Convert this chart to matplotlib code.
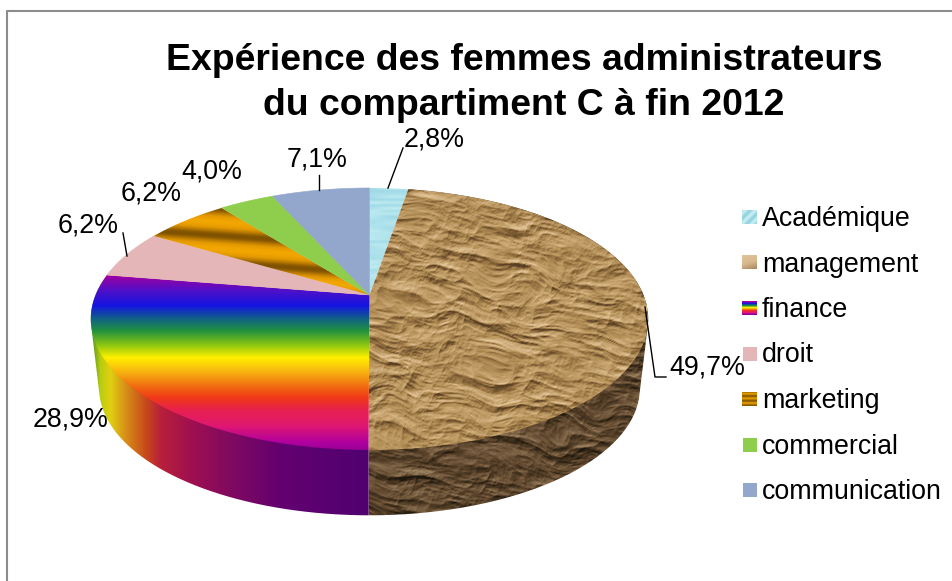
import matplotlib

matplotlib.use("Agg")
from matplotlib.patches import PathPatch
from matplotlib.path import Path
import matplotlib.pyplot as plt
import numpy as np

title = "Expérience des femmes administrateurs\ndu compartiment C à fin 2012"
categories = ["Académique", "management", "finance", "droit", "marketing", "commercial", "communication"]
# the printed percentages add up to more than 100, the pie normalises them
values = [2.8, 49.7, 28.9, 6.2, 6.2, 4.0, 7.1]
value_labels = ["2,8%", "49,7%", "28,9%", "6,2%", "6,2%", "4,0%", "7,1%"]

droit_color = "#e4b6b7"
commercial_color = "#8fcd4c"
communication_color = "#93a7cd"

finance_top_y = [275, 290, 305, 318, 330, 345, 357, 372, 385, 397, 410, 425, 442, 452]
finance_top_colors = ["#a000a0", "#5010c8", "#1414e0", "#106088", "#209040", "#90c810", "#fff000",
                      "#f8b010", "#f07010", "#f03a18", "#e82050", "#e01870", "#b000a0", "#900090"]
finance_side_x = [92, 100, 110, 125, 145, 160, 190, 230, 280, 370]
finance_side_colors = ["#5a9a20", "#b8cc10", "#e0d010", "#d89018", "#c84a1a",
                       "#b8203a", "#a01050", "#800a60", "#640070", "#500070"]

W, H = 953, 581

# pie geometry, in pixels
CX, CY = 369.5, 295
TOP_A, TOP_B, PERSP = 274, 126.6, 0.183
BOTTOM_SCALE, BOTTOM_DY = 0.97, 70


def rim(theta, scale=1.0, dy=0.0):
    # clockwise angle from the top of the pie -> perspective view of the disc
    u, v = np.sin(theta), -np.cos(theta)
    d = 1 - PERSP * v
    return CX + scale * TOP_A * u / d, CY + dy + scale * TOP_B * v / d


def hex_rgb(c):
    return [int(c[i : i + 2], 16) / 255 for i in (1, 3, 5)]


def ramp(t, stops, colors):
    rgb = np.array([hex_rgb(c) for c in colors])
    return np.stack([np.interp(t, stops, rgb[:, i]) for i in range(3)], axis=-1)


def value_noise(x, y):
    # lattice noise from a fixed hash
    ix, iy = np.floor(x), np.floor(y)
    fx, fy = x - ix, y - iy
    fx, fy = fx * fx * (3 - 2 * fx), fy * fy * (3 - 2 * fy)

    def h(a, b):
        s = np.sin(a * 12.9898 + b * 78.233) * 43758.5453
        return s - np.floor(s)

    top = h(ix, iy) * (1 - fx) + h(ix + 1, iy) * fx
    bot = h(ix, iy + 1) * (1 - fx) + h(ix + 1, iy + 1) * fx
    return top * (1 - fy) + bot * fy


def crumple(w, h, sx, sy):
    y, x = np.mgrid[0:h, 0:w].astype(float)
    # shear so the creases run slightly downhill
    wx = 26 * value_noise(x / 38, y / 38 + 7.3)
    wy = 16 * value_noise(x / 34 + 3.1, y / 34)
    x2 = x + wx + 0.25 * y
    y2 = y + wy - 0.22 * x
    height = np.zeros_like(x)
    amp = 1.0
    for octave in range(5):
        f = 1.8**octave
        n = value_noise(x2 * f / sx + octave * 5.7, y2 * f / sy + octave * 2.3)
        # sharp ridges, they shade into thin creases
        height += amp * np.abs(2 * n - 1) ** 0.8
        amp *= 0.55
    gy, gx = np.gradient(height)
    shade = -(0.5 * gx + gy)
    shade = (shade - shade.mean()) / shade.std()
    return np.clip(shade, -2.8, 2.8)


def textured(ax, image, extent, verts):
    patch = PathPatch(Path(verts), facecolor="none", edgecolor="none", transform=ax.transData)
    ax.add_patch(patch)
    im = ax.imshow(image, extent=extent, aspect="auto", interpolation="bilinear", zorder=patch.get_zorder())
    im.set_clip_path(patch)
    return im


def fill(ax, color, verts):
    ax.fill(verts[:, 0], verts[:, 1], color=color, lw=0.4)


def top_face(t0, t1):
    t = np.linspace(t0, t1, 120)
    x, y = rim(t)
    return np.vstack([[CX, CY], np.column_stack([x, y]), [CX, CY]])


def convex_hull(points):
    pts = sorted(map(tuple, points))

    def half(seq):
        out = []
        for p in seq:
            while len(out) > 1 and (
                (out[-1][0] - out[-2][0]) * (p[1] - out[-2][1]) - (out[-1][1] - out[-2][1]) * (p[0] - out[-2][0])
            ) <= 0:
                out.pop()
            out.append(p)
        return out[:-1]

    hull = half(pts) + half(pts[::-1])
    return np.array(hull + hull[:1])


def side_face(t0, t1):
    # swept outline of the arc between the two rims
    t = np.linspace(t0, t1, 160)
    x0, y0 = rim(t)
    x1, y1 = rim(t, BOTTOM_SCALE, BOTTOM_DY)
    return convex_hull(np.vstack([np.column_stack([x0, y0]), np.column_stack([x1, y1])]))


fig = plt.figure(figsize=(W / 100, H / 100), dpi=100)
plt.rcParams["font.family"] = ["Liberation Sans", "DejaVu Sans"]
ax = fig.add_axes([0, 0, 1, 1])
ax.axis("off")

# outer frame, only top and left survive the crop
ax.plot([7.5, 7.5, W], [H, 10.5, 10.5], color="#8c8c8c", lw=1.5, solid_capstyle="butt")

fractions = np.array(values) / np.sum(values)
edges = np.concatenate([[0], np.cumsum(fractions)]) * 2 * np.pi

# textures
ext_m = (360, 660, 520, 180)
paper = crumple(300, 340, 42, 17)
paper_top = ramp(paper, [-2.8, -1, 0, 1.2, 2.8], ["#5a3f24", "#957241", "#b49059", "#c9a672", "#dfc296"])
paper_side = ramp(crumple(300, 340, 48, 20), [-2.8, -0.6, 0.6, 2.8], ["#1e170c", "#4e3a24", "#6d5338", "#98805f"])

streak_y, streak_x = np.mgrid[0:90, 0:60].astype(float)
streaks = value_noise(streak_x / 30, streak_y / 2.2)
academique = ramp(streaks, [0, 1], ["#9dd9e6", "#c2edf2"])

finance_top = ramp(np.arange(275, 453)[:, None], finance_top_y, finance_top_colors)
finance_side = ramp(np.arange(90, 372)[None, :], finance_side_x, finance_side_colors)

yy, xx = np.mgrid[195:300, 100:375].astype(float)
stripe = 0.5 + 0.5 * np.sin(2 * np.pi * (yy - 0.07 * (xx - 200)) / 27 + 0.6)
marketing = ramp(stripe, [0, 0.25, 0.6, 1], ["#7f5200", "#b37600", "#e09600", "#f2a600"])

# sides first, the top faces are painted over them
textured(ax, paper_side, ext_m, side_face(edges[1], edges[2]))
textured(ax, finance_side, (90, 372, 520, 270), side_face(edges[2], edges[3]))

textured(ax, academique, (365, 425, 300, 185), top_face(edges[0], edges[1]))
textured(ax, paper_top, ext_m, top_face(edges[1], edges[2]))
textured(ax, finance_top, (85, 372, 453, 275), top_face(edges[2], edges[3]))
fill(ax, droit_color, top_face(edges[3], edges[4]))
textured(ax, marketing, (100, 375, 300, 195), top_face(edges[4], edges[5]))
fill(ax, commercial_color, top_face(edges[5], edges[6]))
fill(ax, communication_color, top_face(edges[6], edges[7]))

# value labels and leader lines
label_pos = [(434, 140), (707, 367), (71, 419), (88, 226), (151, 193), (212, 172), (317, 160)]
for text, (lx, ly) in zip(value_labels, label_pos):
    ax.text(lx, ly, text, fontsize=19.3, ha="center", va="center", color="black")
ax.plot([388, 403], [188, 148], color="black", lw=1)
ax.plot([645, 655, 666], [307, 377, 377], color="black", lw=1)
ax.plot([127, 123], [256, 233], color="black", lw=1)
ax.plot([319, 319], [190, 175], color="black", lw=1)

# legend
swatch_stripes = ramp(np.sin(np.arange(14)[:, None] * 2 * np.pi / 4.7) * 0.5 + 0.5, [0, 1], ["#8a5a00", "#e09a00"])
swatch_finance = ramp(np.linspace(275, 452, 14)[:, None], finance_top_y, finance_top_colors)
sy, sx = np.mgrid[0:14, 0:15].astype(float)
swatch_acad = ramp(0.5 + 0.5 * np.sin((sx + sy) / 1.6), [0, 1], ["#92d3e0", "#c6eef2"])
swatch_mgmt = ramp((sy + 0.3 * sx) / 18, [0, 0.5, 1], ["#e0c49c", "#d9b88d", "#a58659"])
swatches = [swatch_acad, swatch_mgmt, swatch_finance, droit_color, swatch_stripes, commercial_color, communication_color]
legend_y = np.linspace(217, 490, len(categories))
for name, swatch, ly in zip(categories, swatches, legend_y):
    if isinstance(swatch, str):
        ax.fill_between([743, 757], ly - 7, ly + 7, color=swatch, lw=0)
    else:
        ax.imshow(swatch, extent=(742, 757, ly + 7, ly - 7), aspect="auto", interpolation="nearest")
    ax.text(762, ly + 2, name, fontsize=19.3, ha="left", va="center", color="black")

ax.text(524, 83, title, fontsize=26.9, fontweight="bold", ha="center", va="center", color="black", linespacing=1.38)

ax.set_xlim(0, W)
ax.set_ylim(H, 0)
fig.savefig("out.png", dpi=100)
